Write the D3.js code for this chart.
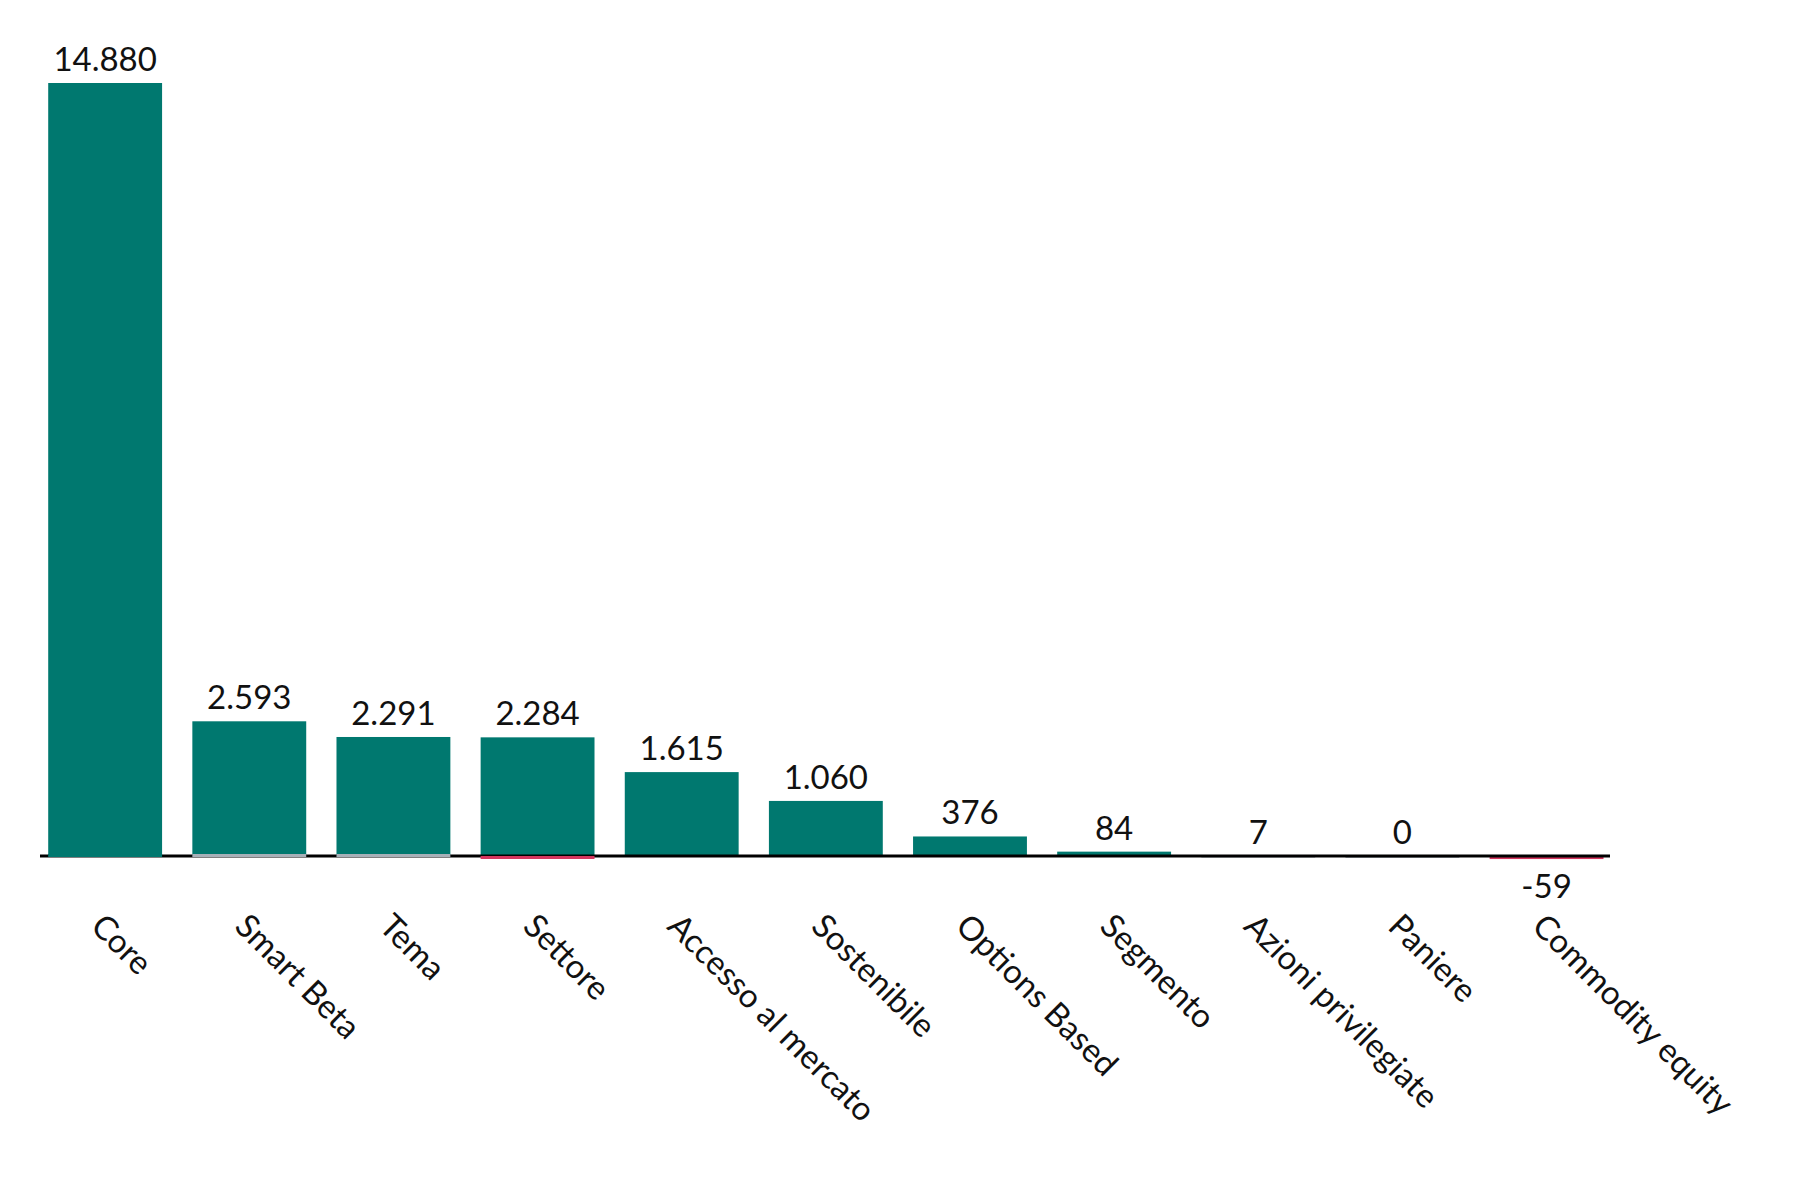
<!DOCTYPE html><html><head><meta charset="utf-8"><script src="https://cdn.jsdelivr.net/npm/d3@7"></script>
<style>body{margin:0;background:#fff}</style></head><body><svg id="c" width="1800" height="1200"></svg>
<script>
const categories=["Core","Smart Beta","Tema","Settore","Accesso al mercato","Sostenibile","Options Based","Segmento","Azioni privilegiate","Paniere","Commodity equity"];
const values=[14880,2593,2291,2284,1615,1060,376,84,7,0,-59];
const valueLabels=["14.880","2.593","2.291","2.284","1.615","1.060","376","84","7","0","-59"];
const svg=d3.select("#c");
const x=d3.scaleBand().domain(categories).range([41,1468+142.7]).paddingInner(0.21).paddingOuter(0.05);
const y=d3.scaleLinear().domain([0,14880]).range([856,83]);
const font="Lato, 'Open Sans', sans-serif";
svg.selectAll("rect.b").data(values).join("rect")
 .attr("x",(d,i)=>x(categories[i])).attr("width",x.bandwidth())
 .attr("y",d=>d>=0?y(d):y(0)).attr("height",d=>Math.max(Math.abs(y(d)-y(0)),2))
 .attr("fill",d=>d<0?"#d4365f":(d<10?"#a8b0b8":"#00786f"));
svg.append("line").attr("x1",40).attr("x2",1610).attr("y1",y(0)).attr("y2",y(0)).attr("stroke","#000").attr("stroke-width",3);
// re-draw small bars over axis
svg.selectAll("rect.s").data(values).join("rect").filter(d=>Math.abs(d)<100)
 .attr("x",(d,i)=>x(categories[i])).attr("width",x.bandwidth())
 .attr("y",d=>d<0?y(0):y(0)-2).attr("height",3)
 .attr("fill",d=>d<0?"#d4365f":(d<10?"#a8b0b8":"#00786f"));
svg.selectAll("text.v").data(values).join("text")
 .attr("x",(d,i)=>x(categories[i])+x.bandwidth()/2)
 .attr("y",d=>d<0?y(0)+42:y(d)-12)
 .attr("text-anchor","middle").attr("font-family",font).attr("font-size",33).attr("fill","#111")
 .text((d,i)=>valueLabels[i]);
svg.selectAll("text.c").data(categories).join("text")
 .attr("transform",d=>`translate(${x(d)+x.bandwidth()/2-16},${928}) rotate(45)`)
 .attr("font-family",font).attr("font-size",33).attr("fill","#111").text(d=>d);
</script></body></html>
